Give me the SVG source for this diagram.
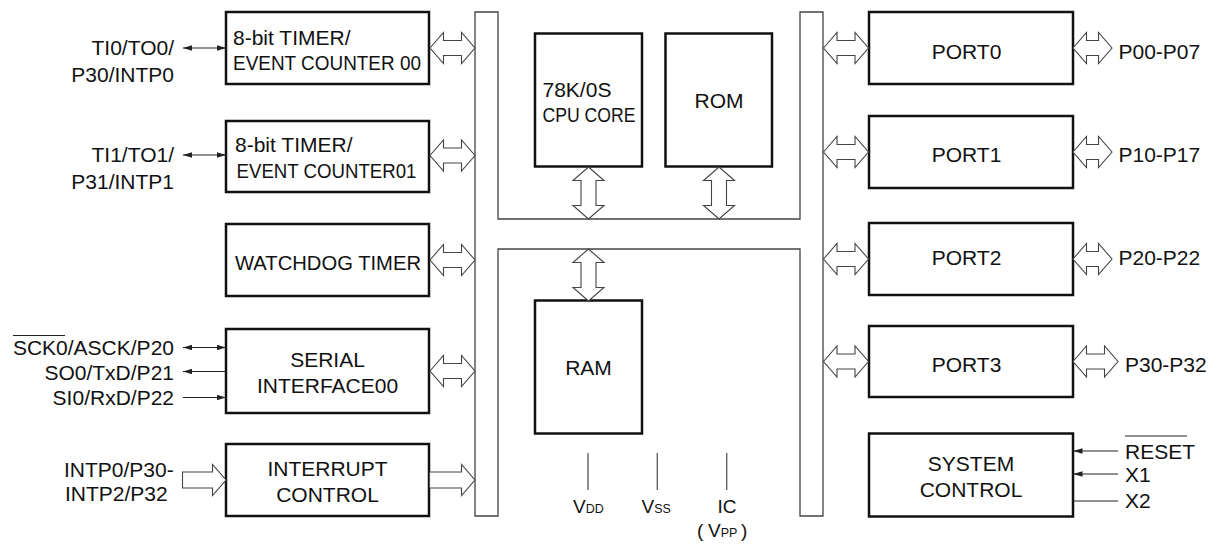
<svg xmlns="http://www.w3.org/2000/svg" width="1218" height="549" viewBox="0 0 1218 549">
<style>
text{font-family:"Liberation Sans",Arial,sans-serif;font-size:21px;fill:#111}
.box{fill:#fff;stroke:#111;stroke-width:2.5}
.bus{fill:#fff;stroke:#444;stroke-width:1.3}
.ha{fill:#fff;stroke:#444;stroke-width:1.1;stroke-linejoin:miter}
.sig{stroke:#222;stroke-width:1.2;fill:none}
.pw{stroke:#555;stroke-width:1.3}
.m{text-anchor:middle}
.e{text-anchor:end}
</style>
<defs>
<marker id="ah" viewBox="0 0 10 6" refX="10" refY="3" markerWidth="9" markerHeight="5.4" markerUnits="userSpaceOnUse" orient="auto-start-reverse"><path d="M0,0 L10,3 L0,6 Z" fill="#222"/></marker>
<path id="d45" d="M0,0 L13.5,-15.5 L13.5,-7.5 L31.5,-7.5 L31.5,-15.5 L45,0 L31.5,15.5 L31.5,7.5 L13.5,7.5 L13.5,15.5 Z"/>
<path id="d39" d="M0,0 L13.5,-15.5 L13.5,-7.5 L25.5,-7.5 L25.5,-15.5 L39,0 L25.5,15.5 L25.5,7.5 L13.5,7.5 L13.5,15.5 Z"/>
<path id="v52" d="M0,0 L15.5,13.5 L7.5,13.5 L7.5,38.5 L15.5,38.5 L0,52 L-15.5,38.5 L-7.5,38.5 L-7.5,13.5 L-15.5,13.5 Z"/>
</defs>
<rect width="1218" height="549" fill="#fff"/>

<g id="bus">
<path class="bus" d="M475,12 L498,12 L498,219 L800,219 L800,12 L823,12 L823,516 L800,516 L800,249 L498,249 L498,516 L475,516 Z"/>
</g>

<g id="timer00"><rect class="box" x="226" y="12" width="203" height="72"/>
<text x="233" y="45">8-bit TIMER/</text><text x="233" y="70" textLength="188" lengthAdjust="spacingAndGlyphs">EVENT COUNTER 00</text></g>
<g id="timer01"><rect class="box" x="226" y="121" width="203" height="71"/>
<text x="235" y="152">8-bit TIMER/</text><text x="236.5" y="178" textLength="180" lengthAdjust="spacingAndGlyphs">EVENT COUNTER01</text></g>
<g id="watchdog"><rect class="box" x="226" y="224" width="203" height="72"/>
<text x="235" y="270" textLength="186" lengthAdjust="spacingAndGlyphs">WATCHDOG TIMER</text></g>
<g id="serial"><rect class="box" x="226" y="329" width="203" height="84"/>
<text class="m" x="327.5" y="367">SERIAL</text><text class="m" x="327.5" y="393">INTERFACE00</text></g>
<g id="interrupt"><rect class="box" x="226" y="444" width="203" height="72"/>
<text class="m" x="327.5" y="476">INTERRUPT</text><text class="m" x="327.5" y="502">CONTROL</text></g>

<g id="cpu"><rect class="box" x="535" y="33.5" width="107" height="133"/>
<text x="542.5" y="97">78K/0S</text><text x="542.5" y="122" textLength="93" lengthAdjust="spacingAndGlyphs">CPU CORE</text></g>
<g id="rom"><rect class="box" x="665.5" y="33.5" width="106.5" height="133"/>
<text class="m" x="719" y="108">ROM</text></g>
<g id="ram"><rect class="box" x="535" y="300.5" width="107" height="133"/>
<text class="m" x="588.5" y="375">RAM</text></g>

<g id="port0"><rect class="box" x="869" y="12" width="204" height="72"/><text class="m" x="966.5" y="58.5">PORT0</text></g>
<g id="port1"><rect class="box" x="869" y="116" width="204" height="72"/><text class="m" x="966.5" y="162">PORT1</text></g>
<g id="port2"><rect class="box" x="869" y="223" width="204" height="72"/><text class="m" x="966.5" y="265">PORT2</text></g>
<g id="port3"><rect class="box" x="869" y="326" width="204" height="71"/><text class="m" x="966.5" y="372">PORT3</text></g>
<g id="sysctl"><rect class="box" x="869" y="433.5" width="204" height="83"/>
<text class="m" x="971" y="471">SYSTEM</text><text class="m" x="971" y="496.5">CONTROL</text></g>

<g id="connectors">
<use href="#d45" class="ha" x="430" y="48"/>
<use href="#d45" class="ha" x="430" y="155.5"/>
<use href="#d45" class="ha" x="430" y="260"/>
<use href="#d45" class="ha" x="430" y="371"/>
<path class="ha" d="M429.5,472 L461.5,472 L461.5,464.5 L475,480 L461.5,495.5 L461.5,488 L429.5,488 Z"/>
<path class="ha" d="M182.5,472 L212.5,472 L212.5,464.5 L226,480 L212.5,495.5 L212.5,488 L182.5,488 Z"/>

<use href="#d45" class="ha" x="823.5" y="48"/>
<use href="#d45" class="ha" x="823.5" y="152"/>
<use href="#d45" class="ha" x="823.5" y="259"/>
<use href="#d45" class="ha" x="823.5" y="361.5"/>
<use href="#d39" class="ha" x="1073" y="48"/>
<use href="#d39" class="ha" x="1073" y="152"/>
<use href="#d39" class="ha" x="1073" y="259"/>
<use href="#d45" class="ha" x="1073" y="361.5"/>

<use href="#v52" class="ha" x="588.5" y="167"/>
<use href="#v52" class="ha" x="719" y="167"/>
<use href="#v52" class="ha" x="588.5" y="249"/>

<line class="sig" x1="183" y1="48" x2="226" y2="48" marker-start="url(#ah)" marker-end="url(#ah)"/>
<line class="sig" x1="183" y1="155" x2="226" y2="155" marker-start="url(#ah)" marker-end="url(#ah)"/>
<line class="sig" x1="183" y1="347.5" x2="226" y2="347.5" marker-start="url(#ah)" marker-end="url(#ah)"/>
<line class="sig" x1="226" y1="371.5" x2="183" y2="371.5" marker-end="url(#ah)"/>
<line class="sig" x1="183" y1="397.5" x2="226" y2="397.5" marker-end="url(#ah)"/>
<line class="sig" x1="1118" y1="451" x2="1073.5" y2="451" marker-end="url(#ah)"/>
<line class="sig" x1="1118" y1="474" x2="1073.5" y2="474" marker-end="url(#ah)"/>
<line class="sig" x1="1118" y1="501" x2="1073.5" y2="501"/>

<line class="pw" x1="588" y1="453" x2="588" y2="490"/>
<line class="pw" x1="657.3" y1="453" x2="657.3" y2="490"/>
<line class="pw" x1="726.7" y1="453" x2="726.7" y2="490"/>
</g>

<g id="labels">
<text class="e" x="174" y="55">TI0/TO0/</text>
<text class="e" x="174" y="82">P30/INTP0</text>
<text class="e" x="174" y="162">TI1/TO1/</text>
<text class="e" x="174" y="188.5">P31/INTP1</text>
<text class="e" x="174" y="355">SCK0/ASCK/P20</text>
<line x1="13" y1="335.5" x2="65" y2="335.5" stroke="#222" stroke-width="1.2"/>
<text class="e" x="174" y="379.5">SO0/TxD/P21</text>
<text class="e" x="174" y="405">SI0/RxD/P22</text>
<text x="64" y="477">INTP0/P30-</text>
<text x="65" y="501">INTP2/P32</text>

<text x="1118.5" y="58.5">P00-P07</text>
<text x="1118.5" y="162">P10-P17</text>
<text x="1118.5" y="265">P20-P22</text>
<text x="1125" y="372">P30-P32</text>
<text x="1125" y="458.5">RESET</text>
<line x1="1125" y1="436" x2="1187" y2="436" stroke="#222" stroke-width="1.2"/>
<text x="1125" y="482">X1</text>
<text x="1125" y="508">X2</text>

<text x="573" y="513" style="font-size:19px">V<tspan style="font-size:12.5px">DD</tspan></text>
<text x="641.5" y="513" style="font-size:19px">V<tspan style="font-size:12.5px">SS</tspan></text>
<text x="717.5" y="513" style="font-size:19px">IC</text>
<text x="697" y="537" style="font-size:19px">(<tspan x="708">V</tspan><tspan style="font-size:12.5px">PP</tspan><tspan x="741">)</tspan></text>
</g>
</svg>
